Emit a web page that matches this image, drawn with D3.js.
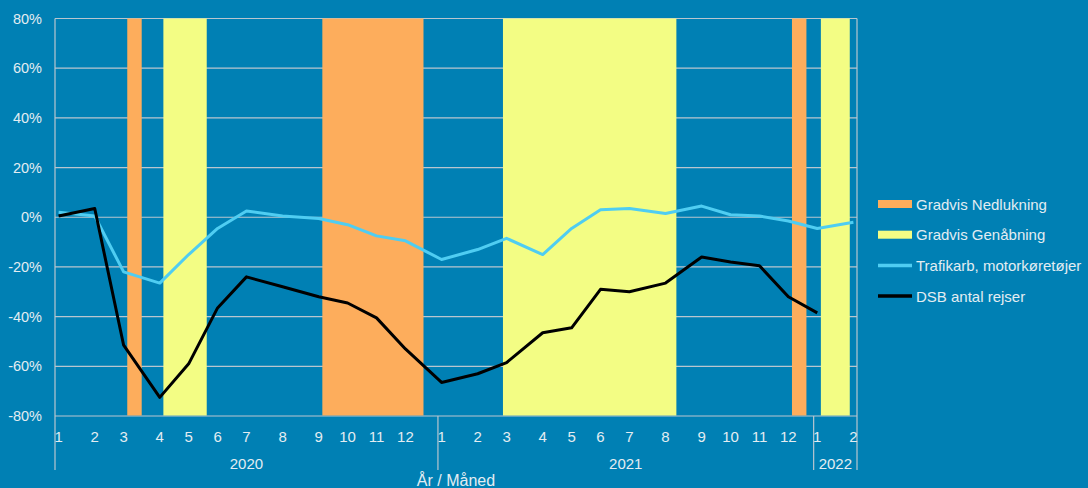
<!doctype html>
<html>
<head>
<meta charset="utf-8">
<script src="https://cdnjs.cloudflare.com/ajax/libs/d3/7.8.5/d3.min.js"></script>
<style>
  body { margin: 0; background: #0080b4; }
  svg { display: block; font-family: "Liberation Sans", Arial, sans-serif; }
</style>
</head>
<body>
<svg id="chart" width="1088" height="488"></svg>
<script>
// week index (0 = first week of Jan 2020) where each month starts
var monthWeek = [0, 5, 9, 14, 18, 22, 26, 31, 36, 40, 44, 48,
                 53, 58, 62, 67, 71, 75, 79, 84, 89, 93, 97, 101,
                 105, 110];
var monthLabels = ["1","2","3","4","5","6","7","8","9","10","11","12",
                   "1","2","3","4","5","6","7","8","9","10","11","12",
                   "1","2"];
var totalWeeks = 111;
var yearLabels = ["2020", "2021", "2022"];
var yearStart = [0, 53, 105];
var yearEnd = [53, 105, 111];

// percent change vs. same month before corona
var trafik = [2, 0.5, -22, -26.5, -15, -4.5, 2.5, 0.5, -0.5, -3, -7.5, -9.5,
              -17, -13, -8.5, -15, -4.5, 3, 3.5, 1.5, 4.5, 1, 0.5, -1.5,
              -4.5, -2];
var dsb = [0.5, 3.5, -51.5, -72.5, -59, -36.5, -24, -28, -32, -34.5, -40.5, -53,
           -66.5, -63, -58.5, -46.5, -44.5, -29, -30, -26.5, -16, -18, -19.5, -32,
           -38.5];

// periods in weeks [first, last]
var nedlukning = [[10, 11], [37, 50], [102, 103]];
var genabning = [[15, 20], [62, 85], [106, 109]];

var yTicks = [-80, -60, -40, -20, 0, 20, 40, 60, 80];

var svg = d3.select("#chart");
var left = 55, right = 857, plotTop = 18.5, bottom = 416;
var textCol = "#e3edf2", gridCol = "#b9c6cf";

var x = d3.scaleBand().domain(d3.range(totalWeeks)).range([left, right]);
var bw = x.bandwidth();
var xc = function(w) { return x(w) + bw / 2; };
var y = d3.scaleLinear().domain([-80, 80]).range([bottom, plotTop]);

// gridlines
svg.append("g").selectAll("line").data(yTicks).enter().append("line")
  .attr("x1", left).attr("x2", right)
  .attr("y1", d => y(d)).attr("y2", d => y(d))
  .attr("stroke", gridCol).attr("stroke-width", 1.2);

svg.append("g").selectAll("text").data(yTicks).enter().append("text")
  .attr("x", 42).attr("y", d => y(d) + 5)
  .attr("text-anchor", "end").attr("fill", textCol).attr("font-size", 14.5)
  .text(d => d + "%");

// shaded periods
function bands(list, col) {
  svg.append("g").selectAll("rect").data(list).enter().append("rect")
    .attr("x", d => x(d[0])).attr("width", d => x(d[1]) + bw - x(d[0]))
    .attr("y", plotTop).attr("height", bottom - plotTop - 0.5)
    .attr("fill", col);
}
bands(nedlukning, "#fdad5c");
bands(genabning, "#f3fd84");

// frame
svg.append("line").attr("x1", left).attr("x2", left).attr("y1", plotTop).attr("y2", 470)
  .attr("stroke", gridCol).attr("stroke-width", 1.2);
svg.append("line").attr("x1", right).attr("x2", right).attr("y1", plotTop).attr("y2", 470)
  .attr("stroke", gridCol).attr("stroke-width", 1.2);
svg.append("g").selectAll("line").data(yearStart.slice(1)).enter().append("line")
  .attr("x1", d => x(d)).attr("x2", d => x(d)).attr("y1", bottom).attr("y2", 470)
  .attr("stroke", gridCol).attr("stroke-width", 1.2);

// month labels
svg.append("g").selectAll("text").data(monthWeek).enter().append("text")
  .attr("x", d => xc(d)).attr("y", 441.5)
  .attr("text-anchor", "middle").attr("fill", textCol).attr("font-size", 15)
  .text((d, i) => monthLabels[i]);

svg.append("g").selectAll("text").data(yearLabels).enter().append("text")
  .attr("x", (d, i) => (x(yearStart[i]) + x(yearEnd[i] - 1) + bw) / 2)
  .attr("y", 468.5)
  .attr("text-anchor", "middle").attr("fill", textCol).attr("font-size", 15)
  .text(d => d);

svg.append("text").attr("x", 456).attr("y", 486)
  .attr("text-anchor", "middle").attr("fill", textCol).attr("font-size", 16)
  .text("År / Måned");

// lines
var line = d3.line().x((d, i) => xc(monthWeek[i])).y(d => y(d));
svg.append("path").datum(trafik).attr("d", line)
  .attr("fill", "none").attr("stroke", "#4fcdf2").attr("stroke-width", 3)
  .attr("stroke-linejoin", "round");
svg.append("path").datum(dsb).attr("d", line)
  .attr("fill", "none").attr("stroke", "#000").attr("stroke-width", 3)
  .attr("stroke-linejoin", "round");

// legend
var legend = [
  { name: "Gradvis Nedlukning", col: "#fdad5c", type: "rect" },
  { name: "Gradvis Genåbning", col: "#f3fd84", type: "rect" },
  { name: "Trafikarb, motorkøretøjer", col: "#4fcdf2", type: "line" },
  { name: "DSB antal rejser", col: "#000", type: "line" }
];
var lg = svg.append("g").selectAll("g").data(legend).enter().append("g")
  .attr("transform", (d, i) => "translate(878," + (204 + i * 30.7) + ")");
lg.filter(d => d.type == "rect").append("rect")
  .attr("x", 0).attr("y", -4).attr("width", 34).attr("height", 8).attr("fill", d => d.col);
lg.filter(d => d.type == "line").append("line")
  .attr("x1", 0).attr("x2", 34).attr("stroke", d => d.col).attr("stroke-width", 3.5);
lg.append("text").attr("x", 38).attr("y", 5.5)
  .attr("fill", textCol).attr("font-size", 15).text(d => d.name);
</script>
</body>
</html>
